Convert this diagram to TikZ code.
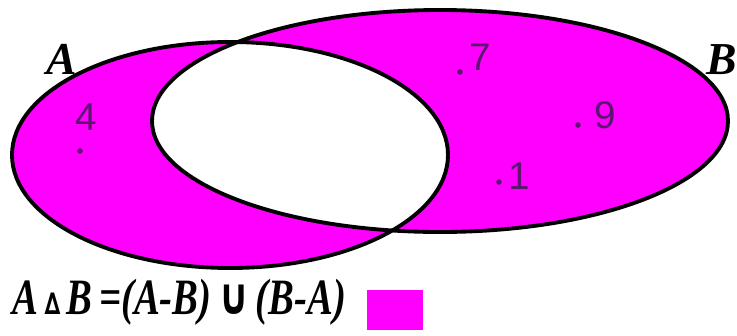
\documentclass[tikz,border=0pt]{standalone}
\usepackage{fontspec}
\setmainfont{Liberation Serif}
\newfontfamily\digitfont{Liberation Sans}
\newfontfamily\symfont{DejaVu Sans}
\usepackage{graphicx}
\usepackage{xcolor}
\definecolor{vnmagenta}{RGB}{255,0,255}
\definecolor{vnpurple}{RGB}{92,22,112}
\usepackage{tikz}
\usetikzlibrary{positioning}

\begin{document}
\begin{tikzpicture}[x=0.02cm, y=-0.02cm]
  \useasboundingbox (0,0) rectangle (737,335);

  % Regions: A and B filled, A n B left white
  \fill[vnmagenta] (230,155) ellipse [x radius=218, y radius=113];
  \fill[vnmagenta] (440,121) ellipse [x radius=288, y radius=111];
  \begin{scope}
    \clip (230,155) ellipse [x radius=218, y radius=113];
    \fill[white] (440,121) ellipse [x radius=288, y radius=111];
  \end{scope}

  % Outlines
  \draw[line width=2.2pt] (230,155) ellipse [x radius=218, y radius=113];
  \draw[line width=2.2pt] (440,121) ellipse [x radius=288, y radius=111];

  % Set names
  \node[font=\fontsize{26}{26}\selectfont\bfseries\itshape] (labA) at (62,59) {A};
  \node[font=\fontsize{26}{26}\selectfont\bfseries\itshape, anchor=east, inner sep=0pt] (labB) at (737,60) {B};

  % --- Elements ---
  \fill[vnpurple] (80,151) circle (2.8);
  \node[font=\digitfont\fontsize{22}{22}\selectfont, vnpurple] (el4) at (86,117) {4};
  \fill[vnpurple] (460,72) circle (2.8);
  \node[font=\digitfont\fontsize{22}{22}\selectfont, vnpurple] (el7) at (480,57) {7};
  \fill[vnpurple] (578,125) circle (2.8);
  \node[font=\digitfont\fontsize{22}{22}\selectfont, vnpurple] (el9) at (605,115) {9};
  \fill[vnpurple] (499,182) circle (2.8);
  \node[font=\digitfont\fontsize{22}{22}\selectfont, vnpurple] (el1) at (519,176) {1};

  % Formula and colour key
  \node[font=\fontsize{29}{29}\selectfont\bfseries\itshape, anchor=west, inner sep=0pt] (formula) at (12,302)
       {\scalebox{0.76}[1]{A\,{\symfont\fontsize{17}{17}\selectfont\bfseries ∆}\,B\,=(A-B)\,{\symfont\upshape\bfseries ∪}\,(B-A)}};
  \node[fill=vnmagenta, minimum width=1.12cm, minimum height=0.8cm, inner sep=0pt] (key) at (395,310) {};
\end{tikzpicture}
\end{document}
